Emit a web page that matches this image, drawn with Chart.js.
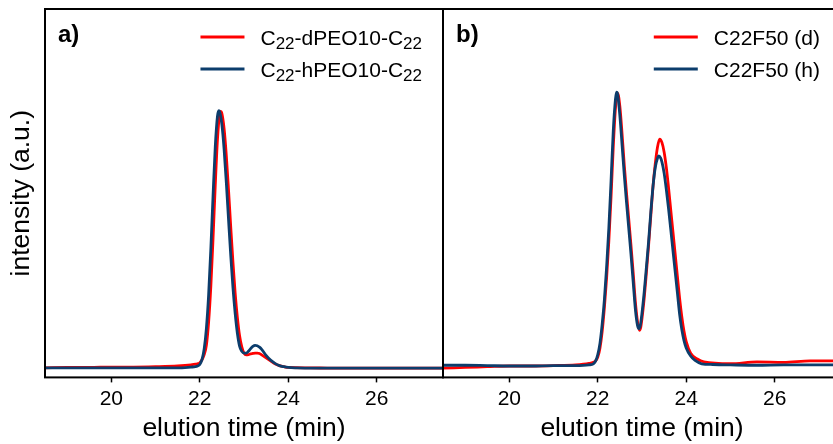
<!DOCTYPE html>
<html>
<head>
<meta charset="utf-8">
<script src="https://cdn.jsdelivr.net/npm/chart.js@4/dist/chart.umd.min.js"></script>
<style>
  html, body { margin: 0; padding: 0; background: #fff; overflow: hidden; width: 833px; height: 444px; }
  #wrapA { position: absolute; left: 0; top: 0; width: 445px; height: 444px; }
  #wrapB { position: absolute; left: 433px; top: 0; width: 420px; height: 444px; }
</style>
</head>
<body>
<div id="wrapA"><canvas id="chartA" width="445" height="444"></canvas></div>
<div id="wrapB"><canvas id="chartB" width="420" height="444"></canvas></div>
<script>
const xTicks = [20, 22, 24, 26];
const xMin = 18.5;
const xMax = 27.5;

// panel a) -- "_22" means subscript
const labelsA = ["C_22-dPEO10-C_22", "C_22-hPEO10-C_22"];
const timeAd = [18.5, 19.0, 19.5, 20.0, 20.5, 21.0, 21.5, 21.8, 21.9, 21.95, 22.0, 22.05, 22.1, 22.15, 22.2, 22.25, 22.3, 22.35, 22.4, 22.45, 22.47, 22.5, 22.55, 22.6, 22.65, 22.7, 22.75, 22.8, 22.85, 22.9, 22.95, 23.0, 23.05, 23.1, 23.15, 23.2, 23.25, 23.3, 23.35, 23.4, 23.5, 23.6, 23.7, 23.8, 23.9, 24.0, 24.5, 25.0, 26.0, 27.5];
const intAd = [0.026, 0.027, 0.027, 0.028, 0.028, 0.029, 0.031, 0.034, 0.036, 0.037, 0.040, 0.048, 0.062, 0.088, 0.150, 0.247, 0.377, 0.521, 0.646, 0.716, 0.722, 0.716, 0.675, 0.602, 0.509, 0.409, 0.313, 0.229, 0.163, 0.113, 0.083, 0.066, 0.061, 0.062, 0.064, 0.065, 0.066, 0.066, 0.065, 0.061, 0.053, 0.045, 0.037, 0.032, 0.029, 0.027, 0.026, 0.025, 0.025, 0.025];
const timeAh = [18.5, 19.0, 19.5, 20.0, 20.5, 21.0, 21.5, 21.8, 21.9, 21.95, 22.0, 22.05, 22.1, 22.15, 22.2, 22.25, 22.3, 22.35, 22.4, 22.43, 22.45, 22.5, 22.55, 22.6, 22.65, 22.7, 22.75, 22.8, 22.85, 22.9, 22.95, 23.0, 23.05, 23.1, 23.15, 23.2, 23.25, 23.3, 23.35, 23.4, 23.5, 23.6, 23.7, 23.8, 23.9, 24.0, 24.2, 25.0, 26.0, 27.5];
const intAh = [0.026, 0.026, 0.026, 0.026, 0.026, 0.026, 0.026, 0.028, 0.029, 0.031, 0.035, 0.048, 0.078, 0.134, 0.224, 0.349, 0.493, 0.626, 0.709, 0.724, 0.721, 0.686, 0.619, 0.529, 0.429, 0.331, 0.244, 0.174, 0.120, 0.085, 0.071, 0.066, 0.066, 0.071, 0.078, 0.084, 0.087, 0.086, 0.082, 0.076, 0.060, 0.047, 0.038, 0.032, 0.029, 0.027, 0.026, 0.025, 0.025, 0.025];

// panel b)
const labelsB = ["C22F50 (d)", "C22F50 (h)"];
const timeBd = [18.5, 19.0, 19.5, 20.0, 20.5, 21.0, 21.5, 21.8, 21.9, 21.95, 22.0, 22.05, 22.1, 22.15, 22.2, 22.25, 22.3, 22.35, 22.4, 22.45, 22.5, 22.55, 22.6, 22.65, 22.7, 22.75, 22.8, 22.85, 22.9, 22.94, 22.97, 23.0, 23.05, 23.1, 23.15, 23.2, 23.25, 23.3, 23.35, 23.4, 23.45, 23.5, 23.55, 23.6, 23.65, 23.7, 23.75, 23.8, 23.85, 23.9, 23.95, 24.0, 24.1, 24.25, 24.4, 25.0, 25.6, 26.2, 26.8, 27.5];
const intBd = [0.025, 0.027, 0.029, 0.031, 0.031, 0.032, 0.034, 0.038, 0.041, 0.045, 0.055, 0.080, 0.125, 0.190, 0.270, 0.370, 0.490, 0.625, 0.730, 0.771, 0.735, 0.660, 0.575, 0.500, 0.430, 0.360, 0.285, 0.205, 0.150, 0.128, 0.135, 0.160, 0.215, 0.285, 0.360, 0.440, 0.520, 0.580, 0.625, 0.647, 0.638, 0.612, 0.570, 0.515, 0.455, 0.395, 0.335, 0.275, 0.215, 0.165, 0.125, 0.097, 0.066, 0.050, 0.042, 0.037, 0.042, 0.041, 0.045, 0.045];
const timeBh = [18.5, 19.0, 19.5, 20.0, 20.5, 21.0, 21.5, 21.8, 21.9, 21.95, 22.0, 22.05, 22.1, 22.15, 22.2, 22.25, 22.3, 22.35, 22.4, 22.425, 22.45, 22.5, 22.55, 22.6, 22.65, 22.7, 22.75, 22.8, 22.85, 22.9, 22.93, 22.96, 23.0, 23.05, 23.1, 23.15, 23.2, 23.25, 23.3, 23.35, 23.38, 23.42, 23.45, 23.5, 23.55, 23.6, 23.65, 23.7, 23.75, 23.8, 23.85, 23.9, 23.95, 24.0, 24.1, 24.2, 24.35, 24.6, 25.0, 25.6, 26.2, 26.8, 27.5];
const intBh = [0.033, 0.033, 0.032, 0.031, 0.031, 0.032, 0.032, 0.034, 0.037, 0.044, 0.062, 0.093, 0.145, 0.212, 0.300, 0.405, 0.533, 0.669, 0.755, 0.774, 0.768, 0.710, 0.630, 0.548, 0.475, 0.405, 0.335, 0.260, 0.185, 0.140, 0.132, 0.140, 0.175, 0.232, 0.300, 0.370, 0.450, 0.520, 0.570, 0.595, 0.601, 0.596, 0.585, 0.555, 0.510, 0.458, 0.402, 0.344, 0.287, 0.230, 0.172, 0.130, 0.100, 0.080, 0.058, 0.046, 0.037, 0.035, 0.034, 0.033, 0.034, 0.034, 0.034];

const RED = "#ff0000";
const BLUE = "#0c3d6c";
const FONT = '"Liberation Sans", Arial, sans-serif';

Chart.defaults.font.family = FONT;
Chart.defaults.color = "#000";

function pts(xs, ys) {
  return xs.map((x, i) => ({ x: x, y: ys[i] }));
}

function line(data, color) {
  return {
    data: data,
    borderColor: color,
    borderWidth: 2.8,
    pointRadius: 0,
    cubicInterpolationMode: "monotone",
    fill: false,
  };
}

// draws label text with "_nn" parts as subscripts, returns width
function drawLabel(ctx, text, x, y, measureOnly) {
  const parts = text.split(/_(\d+)/);
  let w = 0;
  parts.forEach((p, i) => {
    const sub = i % 2 === 1;
    ctx.font = (sub ? "17px " : "21px ") + FONT;
    if (!measureOnly) ctx.fillText(p, x + w, y + (sub ? 4 : 0));
    w += ctx.measureText(p).width;
  });
  return w;
}

const framePlugin = {
  id: "frame",
  afterDraw(chart, args, opts) {
    const { ctx, chartArea: a } = chart;
    ctx.save();
    ctx.strokeStyle = "#000";
    ctx.lineWidth = 2;
    ctx.strokeRect(a.left, a.top, a.right - a.left, a.bottom - a.top);

    ctx.fillStyle = "#000";
    ctx.textBaseline = "alphabetic";
    ctx.font = "bold 24px " + FONT;
    ctx.fillText(opts.tag, a.left + 13, a.top + 33);

    const widths = opts.labels.map((t) => drawLabel(ctx, t, 0, 0, true));
    const textX = a.right - 21 - Math.max(...widths);
    opts.labels.forEach((t, i) => {
      const ly = a.top + 28 + i * 32;
      ctx.strokeStyle = opts.colors[i];
      ctx.lineWidth = 2.8;
      ctx.beginPath();
      ctx.moveTo(textX - 60, ly);
      ctx.lineTo(textX - 16, ly);
      ctx.stroke();
      drawLabel(ctx, t, textX, ly + 7.5, false);
    });
    ctx.restore();
  },
};

function xScale() {
  return {
    type: "linear",
    min: xMin,
    max: xMax,
    afterBuildTicks: (axis) => { axis.ticks = xTicks.map((v) => ({ value: v })); },
    ticks: { color: "#000", font: { size: 21, lineHeight: 1.1 }, padding: 5, maxRotation: 0 },
    grid: { display: true, drawOnChartArea: false, drawTicks: true, tickLength: 5, tickColor: "#000", tickWidth: 1.5 },
    border: { display: false },
    title: { display: true, text: "elution time (min)", color: "#000", font: { size: 26.5, lineHeight: 1.0 }, padding: { top: 0, bottom: 2 } },
  };
}

new Chart(document.getElementById("chartA"), {
  type: "line",
  data: {
    datasets: [line(pts(timeAh, intAh), BLUE), line(pts(timeAd, intAd), RED)],
  },
  options: {
    responsive: false,
    animation: false,
    layout: { padding: { top: 9, right: 2, left: 0, bottom: 0 } },
    plugins: {
      legend: { display: false },
      tooltip: { enabled: false },
      frame: { tag: "a)", labels: labelsA, colors: [RED, BLUE] },
    },
    scales: {
      x: xScale(),
      y: {
        min: 0,
        max: 1,
        ticks: { display: false },
        grid: { display: false, drawTicks: false },
        border: { display: false },
        title: { display: true, text: "intensity (a.u.)", color: "#000", font: { size: 26.5 }, padding: { top: 5.6, bottom: 7.6 } },
      },
    },
  },
  plugins: [framePlugin],
});

new Chart(document.getElementById("chartB"), {
  type: "line",
  data: {
    datasets: [line(pts(timeBh, intBh), BLUE), line(pts(timeBd, intBd), RED)],
  },
  options: {
    responsive: false,
    animation: false,
    layout: { padding: { top: 9, right: 12, left: 10, bottom: 0 } },
    plugins: {
      legend: { display: false },
      tooltip: { enabled: false },
      frame: { tag: "b)", labels: labelsB, colors: [RED, BLUE] },
    },
    scales: {
      x: xScale(),
      y: { display: false, min: 0, max: 1 },
    },
  },
  plugins: [framePlugin],
});
</script>
</body>
</html>
